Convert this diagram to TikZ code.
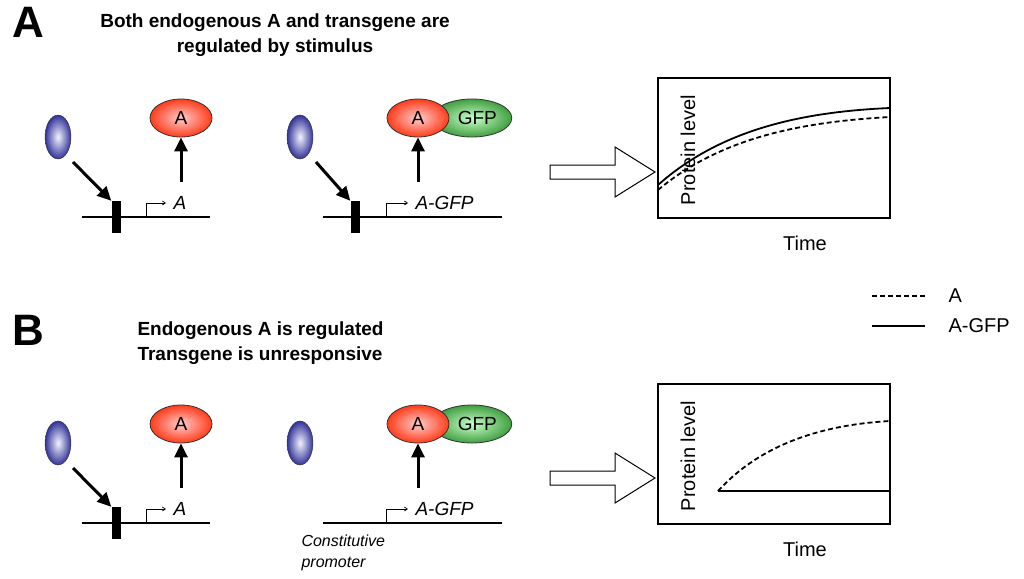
\documentclass[tikz,border=0pt]{standalone}
\usepackage{fontspec}
\setmainfont{Liberation Sans}
\usetikzlibrary{arrows.meta,shapes.geometric}
\begin{document}
\begin{tikzpicture}[x=1pt,y=-1pt,
 blue/.style={ellipse,draw=black!80,inner color=blue!5,outer color=blue!50!black!80!white,minimum width=26,minimum height=44},
 red/.style={ellipse,draw=black!80,line width=0.8,inner color=red!20,outer color=red!70!orange!90!white,minimum width=62,minimum height=38,font=\fontsize{19}{19}\selectfont},
 green/.style={ellipse,draw=black!80,line width=0.8,inner color=green!20!white,outer color=green!50!black!75,minimum width=62,minimum height=38,font=\fontsize{19}{19}\selectfont},
 big/.style={-{Triangle[length=14,width=13]},line width=3},
 dna/.style={line width=1.3},
 box/.style={fill=black,minimum width=9,minimum height=32,inner sep=0},
 gene/.style={font=\itshape\fontsize{19}{19}\selectfont},
 title/.style={font=\bfseries\fontsize{19}{25}\selectfont,align=center},
 lab/.style={font=\fontsize{20}{20}\selectfont},
 prom/.style={-{Straight Barb[length=3,width=4]},line width=0.7}]
\useasboundingbox (0,0) rectangle (1024,578);
\node[font=\bfseries\fontsize{44}{44}\selectfont] (PA) at (28,22) {A};
\node[title] (TA) at (275,35) {Both endogenous A and transgene are\\regulated by stimulus};
\node[font=\bfseries\fontsize{44}{44}\selectfont] (PB) at (28,330) {B};
\node[title,align=left,anchor=west] (TB) at (134,343) {Endogenous A is regulated\\Transgene is unresponsive};
\foreach \yy/\r in {0/a,306/b}{
 \begin{scope}[yshift=-\yy]
 \node[blue] (e1\r) at (58,137) {};
 \node[red] (p1\r) at (181,118) {A};
 \draw[dna] (82,217) -- (210,217);
 \node[box] (b1\r) at (116,217) {};
 \draw[big] (73,162) -- (b1\r.north west);
 \draw[prom] (146,217) -- (146,203) -- (166,203);
 \node[gene,anchor=west] (g1\r) at (170,203) {A};
 \coordinate (s1\r) at (181,182);
 \draw[big] (s1\r) -- (p1\r);
 \node[blue] (e2\r) at (300,137) {};
 \draw[dna] (323,217) -- (502,217);
 \node[green] (q2\r) at (472,118) {\ \ GFP};
 \node[red] (p2\r) at (418,118) {A};
 \draw[prom] (386,217) -- (386,203) -- (408,203);
 \node[gene,anchor=west] (g2\r) at (412,203) {A-GFP};
 \coordinate (s2\r) at (418,182);
 \draw[big] (s2\r) -- (p2\r);
 \coordinate (h\r) at (550,172);
 \draw[line width=1] (h\r) ++(0,-7) -- ++(65,0) -- ++(0,-18) -- ++(40,25) -- ++(-40,25) -- ++(0,-18) -- ++(-65,0) -- cycle;
 \draw[line width=1.5] (658,78) rectangle (890,218);
 \node[lab,rotate=90] (yl\r) at (688,150) {Protein level};
 \node[lab] (xl\r) at (805,243) {Time};
 \end{scope}}
\node[box] (b2) at (355,217) {};
\draw[big] (316,162) -- (b2.north west);
% curves A
\draw[line width=1.8] (658,185) .. controls (720,130) and (800,112) .. (890,108);
\draw[line width=1.8,dash pattern=on 5pt off 3pt] (658,190) .. controls (720,138) and (800,122) .. (890,117);
% curves B
\draw[line width=1.8] (718,491) -- (890,491);
\draw[line width=1.8,dash pattern=on 5pt off 3pt] (718,491) .. controls (760,445) and (820,425) .. (890,421);
% legend
\coordinate (l1) at (872,296); \coordinate (l2) at (925,296);
\draw[line width=1.8,dash pattern=on 5pt off 3pt] (l1) -- (l2);
\node[lab,anchor=west] (la) at (945,296) {A};
\coordinate (l3) at (872,326); \coordinate (l4) at (925,326);
\draw[line width=1.8] (l3) -- (l4);
\node[lab,anchor=west] (lb) at (945,326) {A-GFP};
\node[font=\itshape\fontsize{16}{21}\selectfont,align=left,anchor=north west] (cp) at (298,531) {Constitutive\\promoter};
\end{tikzpicture}
\end{document}
